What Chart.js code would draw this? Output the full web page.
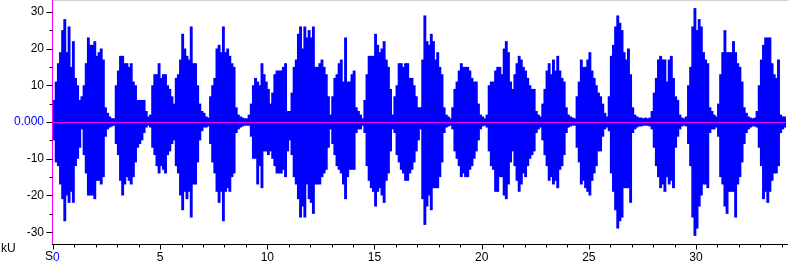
<!DOCTYPE html>
<html><head><meta charset="utf-8">
<script src="https://cdn.jsdelivr.net/npm/chart.js@4.4.0/dist/chart.umd.min.js"></script>
<style>html,body{margin:0;padding:0;background:#fff;overflow:hidden;}</style>
</head><body>
<canvas id="c" width="788" height="266"></canvas>
<script>
// ---- data (envelope of the waveform, one value per 0.1 s bin, in kU) ----
const binSeconds = 0.1;
const envTop = [
6,11,16,19,25,28,19,26,15,22,
12,10,6,7,10,16,23,21,21,22,
18,19,20,17,4,2.5,1.5,1,1,10,
14,18,18,16,16,15,16,11,10,6,
6,6,6,3,1.5,2,10,13,13,16,
12,13,13,10,9,7,5,12,13,17,
24,20,18,17,26,16,16,10,5,3,
2.5,1.5,1.2,7,10,12,20,21,19,26,
19,20,18,16,15,4,2,1.5,1.2,1,
1,2,5,10,12,11,10,16,13,11,
9,5,8,13,14,14,14,15,16,3,
3,8,15,17,24,26,20,26,23,25,
23,26,15,15,16,17,15,13,7,2,
7,12,13,16,17,11,23,11,11,13,
14,4,3,2,1,6,13,18,18,18,
24,21,19,20,22,17,15,9,2,7,
10,16,16,15,16,16,12,12,10,7,
4,4,17,29,22,21,24,22,17,19,
15,13,4,2,1.5,1,4,9,11,14,
16,15,15,15,14,12,11,11,5,2,
1.5,1,2,10,11,11,14,15,15,13,
20,22,19,11,9,13,16,18,17,15,
14,12,10,9,9,3,2,1.5,5,9,
14,16,13,17,14,18,14,12,11,4,
2,1.5,1.2,1,7,11,17,15,15,17,
19,14,12,10,8,7,5,2.5,1.5,7,
18,21,26,29,27,25,19,17,20,13,
4,2,1.5,1.2,1.2,1,1.2,1,1.2,3,
8,12,17,18,17,17,11,17,18,12,
7,6,2,1.2,1,1.5,10,15,26,31,
25,28,26,19,17,16,4,3,2,1.5,
5,13,19,25,19,19,19,22,19,16,
15,11,4,2.5,1.5,1.2,1,1.2,3,10,
17,21,23,23,23,16,13,12,17,2,
1.5,1.5
];
const envBottom = [
-5,-11,-12,-17,-21,-27,-20,-22,-19,-22,
-12,-10,-7,-2,-9,-14,-20,-20,-20,-21,
-16,-16,-17,-15,-4,-2,-1.5,-1.2,-1,-6,
-9,-16,-20,-17,-15,-16,-17,-15,-11,-7,
-6,-5,-3,-1.5,-1,-1.5,-7,-9,-12,-14,
-12,-13,-14,-9,-8,-6,-5,-12,-14,-20,
-24,-19,-21,-19,-26,-17,-17,-11,-5,-2.5,
-1.5,-1.5,-1.2,-6,-11,-14,-19,-22,-19,-27,
-19,-18,-19,-15,-14,-3,-2,-1.5,-1.2,-1,
-1,-1,-4,-10,-10,-17,-12,-18,-8,-8,
-9,-8,-10,-12,-14,-14,-14,-13,-15,-8,
-5,-9,-15,-17,-21,-26,-23,-26,-17,-21,
-22,-25,-17,-17,-17,-15,-14,-13,-7,-2,
-6,-9,-12,-13,-14,-17,-21,-15,-13,-13,
-13,-3,-2,-2,-1,-3,-12,-16,-18,-19,
-23,-19,-18,-20,-22,-16,-14,-8,-2,-3,
-9,-11,-13,-14,-16,-16,-14,-13,-11,-8,
-5,-2,-21,-28,-23,-20,-24,-18,-18,-18,
-15,-11,-3,-1.5,-1.2,-1,-2,-8,-10,-12,
-15,-14,-15,-15,-13,-12,-10,-8,-5,-2,
-1.2,-1,-1.5,-8,-12,-13,-19,-19,-15,-15,
-20,-21,-17,-11,-8,-12,-16,-19,-17,-14,
-15,-12,-10,-9,-8,-3,-2,-1.5,-5,-9,
-12,-16,-15,-17,-16,-18,-13,-12,-9,-3,
-1.5,-1.2,-1,-1,-7,-11,-17,-16,-18,-19,
-20,-16,-14,-12,-8,-8,-4,-2,-1.5,-2.5,
-14,-19,-24,-29,-27,-26,-18,-18,-18,-22,
-3,-2,-1.5,-1.2,-1.2,-1,-1,-1,-1.2,-2,
-7,-12,-15,-18,-17,-19,-15,-17,-16,-18,
-7,-4,-2,-1.2,-1,-1.2,-6,-12,-26,-31,
-29,-23,-20,-17,-17,-18,-3,-2,-2,-1.5,
-4,-15,-17,-23,-25,-19,-19,-19,-26,-17,
-15,-11,-6,-3,-2,-1.5,-1.2,-1.2,-1.5,-7,
-12,-21,-19,-22,-19,-16,-14,-14,-12,-3,
-2,-1.5
];
const xMajorTicks = [0,5,10,15,20,25,30];
const xMinorTicks = [1,2,3,4,6,7,8,9,11,12,13,14,16,17,18,19,21,22,23,24,26,27,28,29,31,32,33,34];
const yMajorTicks = [-30,-20,-10,0,10,20,30];
const yMinorTicks = [-25,-15,-5,5,15,25];
const xRange = [0, 34.2];
const yRange = [-33.2, 33.2];
const xUnitLabel = 'S';
const yUnitLabel = 'kU';

// ---- chart ----
const FONT = '"Liberation Sans", Arial, sans-serif';
const bars = envTop.map((hi, i) => ({ x: (i + 0.5) * binSeconds, y: [envBottom[i], hi] }));

const decor = {
  id: 'decor',
  afterDatasetsDraw(chart) {
    const ctx = chart.ctx, a = chart.chartArea;
    const xs = chart.scales.x, ys = chart.scales.y;
    ctx.save();
    ctx.lineWidth = 1;
    ctx.strokeStyle = '#d0d0d0';
    ctx.beginPath(); ctx.moveTo(a.left, 0.5); ctx.lineTo(chart.width, 0.5); ctx.stroke();
    const y0 = Math.round(ys.getPixelForValue(0)) + 0.5;
    ctx.strokeStyle = '#ff00ff';
    ctx.beginPath(); ctx.moveTo(a.left, y0); ctx.lineTo(a.right, y0); ctx.stroke();
    const xl = Math.round(a.left) - 0.5;
    ctx.beginPath(); ctx.moveTo(xl, 0); ctx.lineTo(xl, Math.round(a.bottom)); ctx.stroke();
    const yb = Math.round(a.bottom) + 0.5;
    ctx.strokeStyle = '#000';
    ctx.beginPath(); ctx.moveTo(xl - 0.5, yb); ctx.lineTo(chart.width, yb); ctx.stroke();
    ctx.beginPath();
    yMajorTicks.forEach(v => { const p = Math.round(ys.getPixelForValue(v)) + 0.5; ctx.moveTo(xl - 6, p); ctx.lineTo(xl, p); });
    yMinorTicks.forEach(v => { const p = Math.round(ys.getPixelForValue(v)) + 0.5; ctx.moveTo(xl - 3, p); ctx.lineTo(xl, p); });
    xMajorTicks.forEach(v => { const p = Math.round(xs.getPixelForValue(v)) + 0.5; ctx.moveTo(p, yb); ctx.lineTo(p, yb + 5); });
    xMinorTicks.forEach(v => { const p = Math.round(xs.getPixelForValue(v)) + 0.5; ctx.moveTo(p, yb); ctx.lineTo(p, yb + 3); });
    ctx.stroke();
    ctx.fillStyle = '#000';
    ctx.font = '12px ' + FONT;
    ctx.textBaseline = 'middle';
    ctx.textAlign = 'left';
    ctx.fillText(yUnitLabel, 1, 249);
    ctx.fillText(xUnitLabel, 45, 256.5);
    ctx.restore();
  }
};

new Chart(document.getElementById('c'), {
  type: 'bar',
  data: { datasets: [{
    data: bars,
    backgroundColor: '#0000ff',
    borderWidth: 0,
    barPercentage: 1.35,
    categoryPercentage: 1,
    grouped: false
  }]},
  options: {
    responsive: false,
    devicePixelRatio: 1,
    animation: false,
    events: [],
    layout: { padding: { left: 0, right: 2, top: 0, bottom: 0 } },
    plugins: { legend: { display: false }, tooltip: { enabled: false } },
    scales: {
      x: {
        type: 'linear', min: xRange[0], max: xRange[1], offset: false,
        grid: { display: false, drawTicks: false, tickLength: 0 },
        border: { display: false },
        afterBuildTicks: s => { s.ticks = [...xMajorTicks, ...xMinorTicks].sort((a, b) => a - b).map(v => ({ value: v })); },
        afterFit: s => { s.height = 22; s.paddingLeft = 0; s.paddingRight = 0; },
        ticks: {
          autoSkip: false, maxRotation: 0, minRotation: 0, padding: 6, align: 'inner',
          font: { family: FONT, size: 12 },
          color: c => (c.tick && c.tick.value === 0) ? '#0000ff' : '#000',
          callback: v => xMajorTicks.includes(v) ? String(v) : ''
        }
      },
      y: {
        type: 'linear', min: yRange[0], max: yRange[1],
        grid: { display: false, drawTicks: false, tickLength: 0 },
        border: { display: false },
        afterBuildTicks: s => { s.ticks = [...yMajorTicks, ...yMinorTicks].sort((a, b) => a - b).map(v => ({ value: v })); },
        afterFit: s => { s.width = 53; s.paddingTop = 0; s.paddingBottom = 0; },
        ticks: {
          autoSkip: false, padding: 9,
          font: { family: FONT, size: 12 },
          color: c => (c.tick && c.tick.value === 0) ? '#0000ff' : '#000',
          callback: v => yMajorTicks.includes(v) ? (v === 0 ? '0.000' : String(v)) : ''
        }
      }
    }
  },
  plugins: [decor]
});
</script>
</body></html>
